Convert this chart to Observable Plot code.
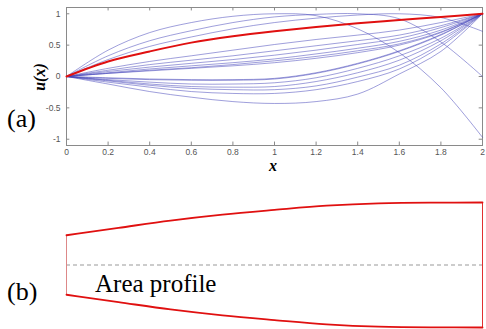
<!DOCTYPE html>
<html><head><meta charset="utf-8">
<script src="https://cdn.jsdelivr.net/npm/d3@7"></script>
<script src="https://cdn.jsdelivr.net/npm/@observablehq/plot@0.6"></script>
<style>
body{margin:0;background:#fff;}
#wrap{position:relative;width:486px;height:329px;overflow:hidden;}
#top,#bot,#ov{position:absolute;left:0;}
#top{top:0;} #bot{top:172px;} #ov{top:0;pointer-events:none;}
#ov text{font-family:"Liberation Serif","Times New Roman",serif;}
</style></head><body>
<div id="wrap"><div id="top"></div><div id="bot"></div>
<svg id="ov" width="486" height="329">
  <text x="7" y="127" font-size="26">(a)</text>
  <text transform="translate(45,77) rotate(-90)" text-anchor="middle" font-size="16" font-weight="bold" font-style="italic">u(x)</text>
  <text x="273" y="171" text-anchor="middle" font-size="16" font-weight="bold" font-style="italic">x</text>
  <text x="7" y="300" font-size="26">(b)</text>
  <text x="95" y="292" font-size="25">Area profile</text>
</svg>
</div>
<script>
// x positions of sampled values
const xs = [0, 0.2, 0.4, 0.6, 0.8, 1.0, 1.2, 1.4, 1.6, 1.8, 2.0];
const xTicks = [0, 0.2, 0.4, 0.6, 0.8, 1, 1.2, 1.4, 1.6, 1.8, 2];
const yTicks = [-1, -0.5, 0, 0.5, 1];

// family of curves u(x) (blue)
const c1 = [0, 0.42, 0.70, 0.86, 0.96, 1.00, 0.97, 0.76, 0.38, -0.18, -0.97];
const c2 = [0, 0.33, 0.57, 0.73, 0.86, 0.95, 0.99, 1.00, 0.92, 0.55, 0.00];
const c3 = [0, 0.27, 0.48, 0.63, 0.76, 0.86, 0.93, 0.98, 1.00, 0.94, 0.72];
const b1 = [0, 0.13, 0.24, 0.33, 0.42, 0.51, 0.59, 0.66, 0.74, 0.86, 1.00];
const b2 = [0, 0.10, 0.19, 0.26, 0.33, 0.41, 0.49, 0.57, 0.66, 0.81, 1.00];
const b3 = [0, 0.08, 0.15, 0.21, 0.27, 0.34, 0.42, 0.51, 0.61, 0.78, 1.00];
const b4 = [0, 0.06, 0.12, 0.17, 0.22, 0.28, 0.36, 0.45, 0.56, 0.74, 1.00];
const b5 = [0, 0.05, 0.10, 0.14, 0.19, 0.25, 0.32, 0.41, 0.52, 0.71, 1.00];
const b6 = [0, 0.05, 0.09, 0.13, 0.17, 0.22, 0.29, 0.38, 0.50, 0.70, 1.00];
const l0 = [0, -0.02, -0.04, -0.05, -0.05, -0.03, 0.06, 0.21, 0.41, 0.67, 1.00];
const l1 = [0, -0.03, -0.05, -0.06, -0.06, -0.04, 0.05, 0.20, 0.40, 0.66, 1.00];
const l2 = [0, -0.05, -0.09, -0.12, -0.12, -0.10, -0.02, 0.13, 0.33, 0.61, 1.00];
const l3 = [0, -0.06, -0.12, -0.16, -0.17, -0.16, -0.08, 0.06, 0.26, 0.57, 1.00];
const l4 = [0, -0.07, -0.14, -0.19, -0.21, -0.21, -0.15, -0.01, 0.18, 0.52, 1.00];
const l5 = [0, -0.09, -0.17, -0.24, -0.27, -0.27, -0.21, -0.08, 0.12, 0.48, 1.00];
const l6 = [0, -0.12, -0.24, -0.33, -0.40, -0.43, -0.40, -0.28, 0.04, 0.40, 1.00];
// solution (red)
const red = [0, 0.24, 0.40, 0.54, 0.64, 0.72, 0.79, 0.85, 0.90, 0.95, 1.00];

// area profile half-width (normalized)
const px = [0, 0.25, 0.5, 0.75, 1.0, 1.25, 1.5, 1.75, 2.0];
const radius = [0.476, 0.594, 0.711, 0.806, 0.881, 0.949, 0.987, 0.998, 1.0];

const family = {c1, c2, c3, b1, b2, b3, b4, b5, b6, l0, l1, l2, l3, l4, l5, l6};

const rows = Object.entries(family).flatMap(([k, v]) => v.map((u, i) => ({k, x: xs[i], u})));
const redRows = red.map((u, i) => ({x: xs[i], u}));

const xDom = [0, 2], yDom = [-1.1, 1.1];
const tx = 0.016, ty = 0.055;
const topPlot = Plot.plot({
  width: 486, height: 172,
  marginLeft: 66, marginRight: 4, marginTop: 7, marginBottom: 27,
  x: {domain: xDom}, y: {domain: yDom},
  style: {background: "transparent"},
  marks: [
    Plot.frame({stroke: "#8a8a8a"}),
    Plot.ruleX(xTicks, {x: d => d, y1: -1.1, y2: -1.1 + ty, stroke: "#8a8a8a"}),
    Plot.ruleX(xTicks, {x: d => d, y1: 1.1, y2: 1.1 - ty, stroke: "#8a8a8a"}),
    Plot.ruleY(yTicks, {y: d => d, x1: 0, x2: tx, stroke: "#8a8a8a"}),
    Plot.ruleY(yTicks, {y: d => d, x1: 2, x2: 2 - tx, stroke: "#8a8a8a"}),
    Plot.axisX(xTicks, {tickSize: 0, tickPadding: 3, tickFormat: d => String(d), fontSize: 8.5, fill: "#555", label: null, fontFamily: "Liberation Sans, Arial, sans-serif"}),
    Plot.axisY(yTicks, {tickSize: 0, tickPadding: 6, tickFormat: d => String(d), fontSize: 8.5, fill: "#555", label: null, fontFamily: "Liberation Sans, Arial, sans-serif"}),
    Plot.line(rows, {x: "x", y: "u", z: "k", stroke: "#4040b8", strokeOpacity: 0.5, strokeWidth: 1, curve: "catmull-rom"}),
    Plot.line(redRows, {x: "x", y: "u", stroke: "#e01010", strokeWidth: 2, curve: "catmull-rom"})
  ]
});
document.getElementById("top").appendChild(topPlot);

const upper = radius.map((r, i) => ({x: px[i], y: r}));
const lower = radius.map((r, i) => ({x: px[i], y: -r}));
const botPlot = Plot.plot({
  width: 486, height: 157,
  marginLeft: 66, marginRight: 4, marginTop: 30, marginBottom: 2,
  x: {domain: xDom, axis: null}, y: {domain: [-1, 1], axis: null},
  style: {background: "transparent"},
  marks: [
    Plot.ruleY([0], {x1: 0, x2: 2, stroke: "#999", strokeDasharray: "4,3", strokeWidth: 1}),
    Plot.ruleX([px[0]], {y1: -radius[0], y2: radius[0], stroke: "#d88", strokeWidth: 1}),
    Plot.ruleX([px[px.length - 1]], {y1: -radius[radius.length - 1], y2: radius[radius.length - 1], stroke: "#e03030", strokeWidth: 1}),
    Plot.line(upper, {x: "x", y: "y", stroke: "#e01010", strokeWidth: 1.8, curve: "monotone-x"}),
    Plot.line(lower, {x: "x", y: "y", stroke: "#e01010", strokeWidth: 1.8, curve: "monotone-x"})
  ]
});
document.getElementById("bot").appendChild(botPlot);
</script>
</body></html>
